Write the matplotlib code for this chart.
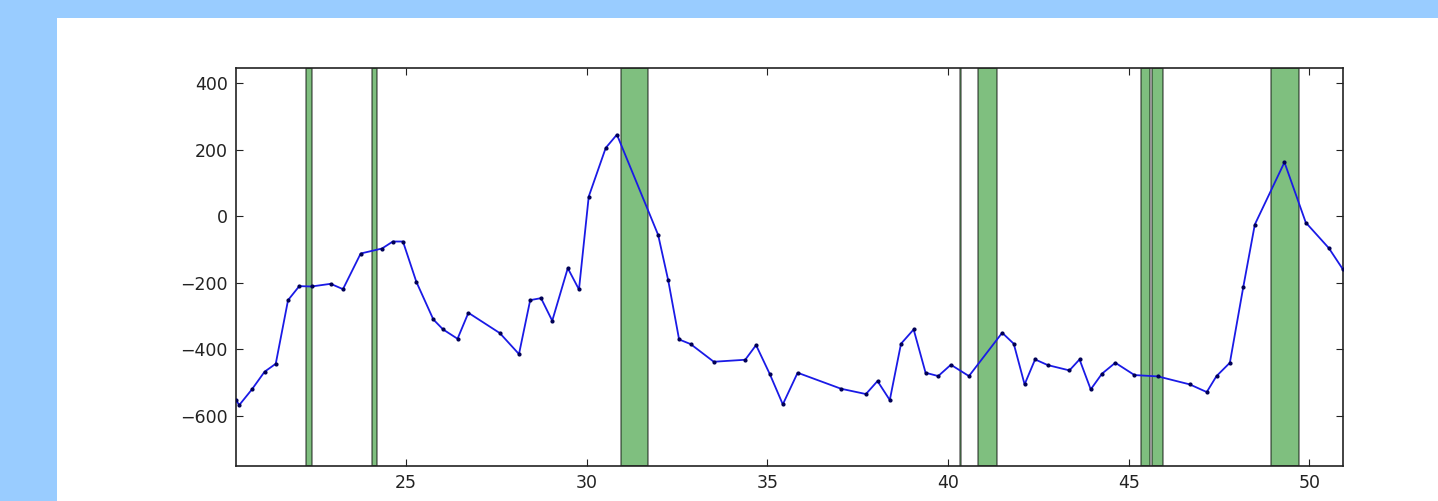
import numpy as np
import matplotlib.pyplot as plt
from matplotlib.patches import Rectangle


save_file_name = "out.png"

plt.rcParams['font.family'] = 'DejaVu Sans'

# series
x = [20.30, 20.39, 20.74, 21.09, 21.40, 21.74, 22.05, 22.39, 22.92, 23.26,
     23.75, 24.34, 24.64, 24.92, 25.29, 25.76, 26.03, 26.43, 26.73, 27.60,
     28.13, 28.44, 28.74, 29.05, 29.48, 29.79, 30.06, 30.53, 30.84, 31.98,
     32.26, 32.56, 32.88, 33.52, 34.39, 34.69, 35.07, 35.43, 35.84, 37.04,
     37.73, 38.05, 38.39, 38.70, 39.05, 39.38, 39.73, 40.08, 40.58, 41.50,
     41.82, 42.12, 42.41, 42.76, 43.36, 43.64, 43.95, 44.26, 44.63, 45.16,
     45.81, 46.69, 47.16, 47.43, 47.80, 48.17, 48.49, 49.31, 49.90, 50.54,
     50.93]
y = [-552, -567, -520, -467, -443, -252, -210, -211, -203, -219,
     -112, -97, -76, -76, -197, -310, -340, -368, -290, -351,
     -414, -252, -246, -314, -156, -220, 59, 205, 245, -56,
     -193, -370, -384, -437, -431, -387, -474, -565, -470, -518,
     -534, -495, -552, -383, -340, -470, -480, -446, -480, -350,
     -383, -505, -430, -447, -463, -430, -520, -473, -440, -477,
     -481, -505, -528, -480, -440, -213, -25, 162, -19, -96,
     -160]

# shaded intervals (start, end)
span_start = [22.23, 24.05, 30.96, 40.33, 40.83, 45.33, 45.64, 48.93]
span_end = [22.39, 24.21, 31.71, 40.36, 41.35, 45.59, 45.96, 49.71]


def main():
    fig = plt.figure(figsize=(14.38, 5.01), dpi=100, facecolor='#99ccff')
    # white figure area (the reference is a crop of a bigger window)
    fig.patches.append(Rectangle((57 / 1438, 0), 1, (501 - 18) / 501,
                                 transform=fig.transFigure, facecolor='white',
                                 edgecolor='none', zorder=-10))
    ax = fig.add_axes([236 / 1438, 35 / 501, (1343 - 236) / 1438, (466 - 68) / 501])
    ax.set_zorder(5)

    for a, b in zip(span_start, span_end):
        ax.axvspan(a, b, facecolor=(0, 0.5, 0, 0.5), edgecolor=(0, 0, 0, 0.5), lw=1.2)

    ax.plot(x, y, color='#1a1ae6', lw=1.3, marker='.', markersize=4,
            markerfacecolor='#000055', markeredgecolor='#000055', zorder=3)

    ax.set_xlim(20.3, 50.93)
    ax.set_ylim(-750, 445)
    ax.set_xticks([25, 30, 35, 40, 45, 50])
    ax.set_yticks([-600, -400, -200, 0, 200, 400])
    ax.tick_params(direction='in', top=True, right=True, length=5, width=0.8,
                   labelsize=12.5, pad=6, colors='#222222')
    for s in ax.spines.values():
        s.set_linewidth(1.2)
        s.set_color('#222222')

    fig.savefig(save_file_name, dpi=100, facecolor=fig.get_facecolor())


main()
